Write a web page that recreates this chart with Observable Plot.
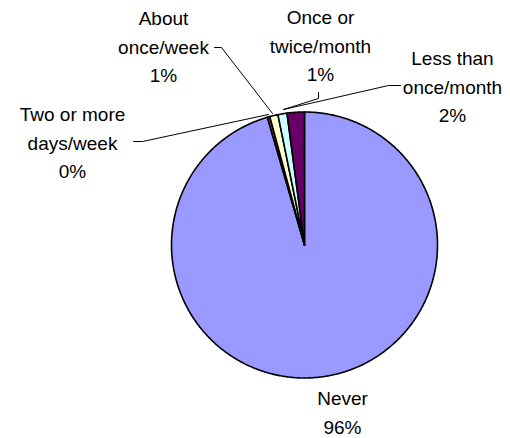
<!DOCTYPE html>
<html>
<head>
<meta charset="utf-8">
<script src="https://cdn.jsdelivr.net/npm/d3@7"></script>
<script src="https://cdn.jsdelivr.net/npm/@observablehq/plot@0.6"></script>
<style>
  html, body { margin: 0; padding: 0; background: #fff; }
  #chart svg { display: block; }
</style>
</head>
<body>
<div id="chart"></div>
<script>
// ---- data ----
const categories = ["Never", "Two or more\ndays/week", "About\nonce/week", "Once or\ntwice/month", "Less than\nonce/month"];
const shares = [95.5, 0.3, 1.0, 1.1, 2.1];
const shareLabels = ["96%", "0%", "1%", "1%", "2%"];
const sliceColors = ["#9999FF", "#993366", "#FFFFCC", "#CCFFFF", "#660066"];

// ---- layout (pixels) ----
const W = 510, H = 438;
const CX = 304, CY = 244.5, R = 133;
const labelLayout = [
  {x: 342, y: 410, leader: []},
  {x: 72, y: 140, leader: [[133, 141], [142, 141], [268, 114]]},
  {x: 163, y: 44, leader: [[214, 47], [221, 47], [272, 113]]},
  {x: 320, y: 43, leader: [[318, 92], [318, 98], [283, 109]]},
  {x: 452, y: 84, leader: [[400, 85], [388, 85], [283, 109]]}
];
const ux = px => (px - CX) / R;
const uy = py => (CY - py) / R;

// ---- pie geometry via d3.pie ----
const arcs = d3.pie().sort(null).value(d => d.value)
  (shares.map((v, i) => ({value: v, i})));

function slicePoints(a) {
  const pts = [{x: 0, y: 0}];
  const n = Math.max(2, Math.ceil((a.endAngle - a.startAngle) / (Math.PI / 360)));
  for (let k = 0; k <= n; k++) {
    const t = a.startAngle + (a.endAngle - a.startAngle) * k / n;
    pts.push({x: Math.sin(t), y: Math.cos(t)});
  }
  pts.push({x: 0, y: 0});
  return pts;
}

const sliceMarks = arcs.map(a => Plot.line(slicePoints(a), {
  x: "x", y: "y", fill: sliceColors[a.data.i], stroke: "#000",
  strokeWidth: 1.6, strokeLinejoin: "round", curve: "linear"
}));

const leaderMarks = labelLayout.filter(l => l.leader.length).map(l =>
  Plot.line(l.leader.map(([px, py]) => ({x: ux(px), y: uy(py)})), {
    x: "x", y: "y", stroke: "#000", strokeWidth: 1
  }));

const labelData = categories.map((c, i) => ({
  text: c + "\n" + shareLabels[i],
  x: ux(labelLayout[i].x),
  y: uy(labelLayout[i].y)
}));

const chart = Plot.plot({
  width: W, height: H,
  margin: 0,
  x: {domain: [ux(0), ux(W)], axis: null},
  y: {domain: [uy(H), uy(0)], axis: null},
  style: {background: "#fff", fontFamily: "'Liberation Sans', Arial, sans-serif"},
  marks: [
    ...sliceMarks,
    ...leaderMarks,
    Plot.text(labelData, {
      x: "x", y: "y", text: "text",
      fontSize: 19, lineHeight: 1.5, textAnchor: "middle",
      fill: "#000", fontFamily: "'Liberation Sans', Arial, sans-serif"
    })
  ]
});
document.getElementById("chart").appendChild(chart);
</script>
</body>
</html>
